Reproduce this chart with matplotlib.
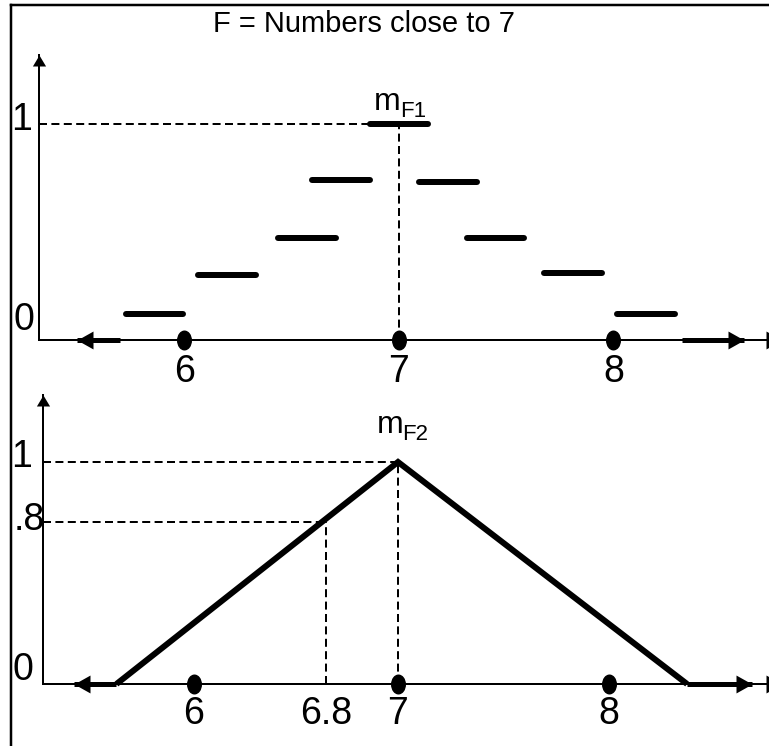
import numpy as np
import matplotlib
matplotlib.use("Agg")
import matplotlib.pyplot as plt
from matplotlib.path import Path
from matplotlib.transforms import Affine2D
from matplotlib.lines import Line2D

# ---------------- data ----------------
title = "F = Numbers close to 7"

# F1: discrete membership grades around 7
f1_x = [5.86, 6.20, 6.57, 6.73, 7.00, 7.23, 7.45, 7.81, 8.15]
f1_mu = [0.12, 0.30, 0.47, 0.74, 1.00, 0.73, 0.47, 0.31, 0.12]
f1_ticks = [6, 7, 8]
f1_tick_labels = ["6", "7", "8"]
f1_mu_ticks = [0, 1]
f1_mu_labels = ["0", "1"]
f1_tails = [(5.70, 5.50), (8.32, 8.61)]      # zero-grade runs: (start, tip)

# F2: triangular membership function
f2_x = [5.53, 7.00, 8.37]
f2_mu = [0.0, 1.0, 0.0]
f2_ref_x = 6.8
f2_ref_mu = 0.8
f2_ticks = [6, 6.8, 7, 8]
f2_tick_labels = ["6", "6.8", "7", "8"]
f2_mu_ticks = [0, 0.8, 1]
f2_mu_labels = ["0", ".8", "1"]
f2_tails = [(5.53, 5.27), (8.37, 8.68)]

integers = [6, 7, 8]

# ---------------- layout helpers ----------------
W, H, DPI = 769, 746, 100
NARROW = ["Liberation Sans Narrow", "Liberation Sans", "DejaVu Sans"]
REGULAR = ["Liberation Sans", "DejaVu Sans"]
PT = 72.0 / DPI  # points per pixel

fig = plt.figure(figsize=(W / DPI, H / DPI), dpi=DPI)
fig.patch.set_facecolor("white")


def box(left, right, top, bottom):
    return [left / W, 1 - bottom / H, (right - left) / W, (bottom - top) / H]


def piecewise(vals, pos):
    vals = np.asarray(vals, float)
    pos = np.asarray(pos, float)
    s0 = (pos[1] - pos[0]) / (vals[1] - vals[0])
    s1 = (pos[-1] - pos[-2]) / (vals[-1] - vals[-2])

    def fwd(v):
        v = np.asarray(v, float)
        out = np.interp(v, vals, pos)
        out = np.where(v < vals[0], pos[0] + (v - vals[0]) * s0, out)
        out = np.where(v > vals[-1], pos[-1] + (v - vals[-1]) * s1, out)
        return out

    def inv(p):
        p = np.asarray(p, float)
        out = np.interp(p, pos, vals)
        out = np.where(p < pos[0], vals[0] + (p - pos[0]) / s0, out)
        out = np.where(p > pos[-1], vals[-1] + (p - pos[-1]) / s1, out)
        return out

    return fwd, inv


def marker(verts):
    codes = [Path.MOVETO] + [Path.LINETO] * (len(verts) - 2) + [Path.CLOSEPOLY]
    return Path(verts, codes)


HEAD_UP = marker([(0, 0), (-0.6, -1), (0.6, -1), (0, 0)])
HEAD_LEFT = marker([(0, 0), (1, 0.56), (1, -0.56), (0, 0)])
HEAD_RIGHT = marker([(0, 0), (-1, 0.56), (-1, -0.56), (0, 0)])
DOT = Affine2D().scale(0.75, 1.0).transform_path(Path.unit_circle())

AXIS_LW = 2.0 * PT
THICK_LW = 6.0 * PT
TAIL_LW = 5.0 * PT
DASH_LW = 2.0 * PT
DASH = (0, (4, 2.2))
LABEL_SIZE = 27
BAR_HALF = 0.135


def style_axes(ax, ticks, labels, pad):
    for s in ("top", "right"):
        ax.spines[s].set_visible(False)
    for s in ("left", "bottom"):
        ax.spines[s].set_linewidth(AXIS_LW)
    ax.patch.set_visible(False)
    ax.set_yticks([])
    ax.set_xticks(ticks, labels)
    ax.tick_params(axis="x", length=0, pad=pad, labelsize=LABEL_SIZE)
    for t in ax.get_xticklabels():
        t.set_family(REGULAR)
    # arrowheads on the axes; the right one runs off the page edge
    ax.plot([0], [1], marker=HEAD_UP, ms=22 * PT, color="k", mew=0,
            transform=ax.transAxes, clip_on=False, zorder=6)
    ax.plot([1.0 + 13.0 / 726], [0], marker=HEAD_RIGHT, ms=32 * PT,
            color="k", mew=0, transform=ax.transAxes, clip_on=False,
            zorder=6)


def draw_tails(ax, tails):
    for start, tip in tails:
        ax.plot([start, tip], [0, 0], color="k", lw=TAIL_LW,
                solid_capstyle="butt", clip_on=False, zorder=4)
        head = HEAD_LEFT if tip < start else HEAD_RIGHT
        ax.plot([tip], [0], marker=head, ms=32 * PT, color="k", mew=0,
                clip_on=False, zorder=5)


def draw_dots(ax):
    ax.plot(integers, [0] * len(integers), linestyle="none", marker=DOT,
            ms=20 * PT, color="k", mew=0, clip_on=False, zorder=6)


def y_label(ax, text, value, dx, dy):
    ax.annotate(text, xy=(0, value), xycoords=("axes fraction", "data"),
                xytext=(dx, dy), textcoords="offset pixels",
                ha="center", va="baseline", fontsize=LABEL_SIZE,
                family=REGULAR, annotation_clip=False)


def m_label(ax, sub, x, y, m_off, sub_off):
    ax.annotate("m", xy=(x, y), xytext=m_off, textcoords="offset pixels",
                ha="left", va="baseline", fontsize=23, family=NARROW,
                annotation_clip=False)
    ax.annotate(sub, xy=(x, y), xytext=sub_off, textcoords="offset pixels",
                ha="left", va="baseline", fontsize=16, family=NARROW,
                annotation_clip=False)


# ---------------- top panel: F1 ----------------
ax1 = fig.add_axes(box(39, 769, 55, 340))
px_per_unit = 214.5
ax1.set_xlim(7 + (39 - 399) / px_per_unit, 7 + (769 - 399) / px_per_unit)
ax1.set_ylim(0, (340 - 55) / 216.0)
style_axes(ax1, f1_ticks, f1_tick_labels, pad=10)

peak1 = f1_x[int(np.argmax(f1_mu))]
ax1.plot([ax1.get_xlim()[0], peak1], [1, 1], color="k", lw=DASH_LW,
         linestyle=DASH, zorder=2)
ax1.plot([peak1, peak1], [0, 1], color="k", lw=DASH_LW, linestyle=DASH,
         zorder=2)

for x, mu in zip(f1_x, f1_mu):
    ax1.plot([x - BAR_HALF, x + BAR_HALF], [mu, mu], color="k", lw=THICK_LW,
             solid_capstyle="round", zorder=4)

draw_tails(ax1, f1_tails)
draw_dots(ax1)
y_label(ax1, f1_mu_labels[1], f1_mu_ticks[1], -17, -6)
y_label(ax1, f1_mu_labels[0], f1_mu_ticks[0], -15, 10)
m_label(ax1, "F1", peak1, 1.0, (-25, 14), (1, 7))

# ---------------- bottom panel: F2 ----------------
ax2 = fig.add_axes(box(43, 769, 395, 684))
fx, ix = piecewise(f2_ticks, [194, 326, 398, 609])
fy, iy = piecewise(f2_mu_ticks, [0, 162, 222])
ax2.set_xscale("function", functions=(fx, ix))
ax2.set_yscale("function", functions=(fy, iy))
ax2.set_xlim(float(ix(43)), float(ix(769)))
ax2.set_ylim(0, float(iy(684 - 395)))
style_axes(ax2, f2_ticks, f2_tick_labels, pad=9)

peak2 = f2_x[int(np.argmax(f2_mu))]
x0 = ax2.get_xlim()[0]
ax2.plot([x0, peak2], [1, 1], color="k", lw=DASH_LW, linestyle=DASH, zorder=2)
ax2.plot([x0, f2_ref_x], [f2_ref_mu, f2_ref_mu], color="k", lw=DASH_LW,
         linestyle=DASH, zorder=2)
ax2.plot([f2_ref_x, f2_ref_x], [0, f2_ref_mu], color="k", lw=DASH_LW,
         linestyle=DASH, zorder=2)
ax2.plot([peak2, peak2], [0, 1], color="k", lw=DASH_LW, linestyle=DASH,
         zorder=2)

ax2.plot(f2_x, f2_mu, color="k", lw=THICK_LW, solid_joinstyle="miter",
         solid_capstyle="butt", zorder=4, clip_on=False)

draw_tails(ax2, f2_tails)
draw_dots(ax2)
y_label(ax2, f2_mu_labels[2], f2_mu_ticks[2], -21, -5)
y_label(ax2, f2_mu_labels[1], f2_mu_ticks[1], -14, -8)
y_label(ax2, f2_mu_labels[0], f2_mu_ticks[0], -20, 4)
m_label(ax2, "F2", peak2, 1.0, (-21, 29), (4, 22))

# ---------------- title and frame ----------------
fig.text(364 / W, 1 - 32 / H, title, ha="center", va="baseline",
         fontsize=21, family=NARROW)
fig.add_artist(Line2D([11 / W, 11 / W], [0, 1 - 5 / H], lw=2.5 * PT,
                      color="k"))
fig.add_artist(Line2D([11 / W, 1], [1 - 5 / H, 1 - 5 / H], lw=2.5 * PT,
                      color="k"))

fig.savefig("out.png", dpi=DPI)
